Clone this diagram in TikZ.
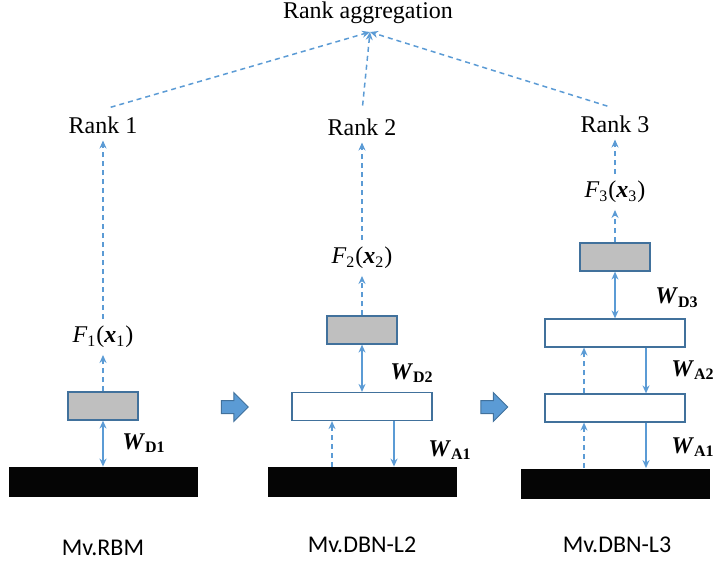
\documentclass[tikz,border=0pt]{standalone}
\usepackage{fontspec}
\setmainfont{Liberation Serif}
\newfontfamily\modelfont{Carlito}
\usetikzlibrary{arrows.meta,shapes.arrows}
\definecolor{lineblue}{RGB}{91,155,213}
\definecolor{edgeblue}{RGB}{65,113,156}

\newcommand{\Wlab}[1]{\textbf{\textit{W}}\textsubscript{\textbf{#1}}}
\newcommand{\Flab}[1]{\textit{F}\textsubscript{#1}(\textbf{\textit{x}}\textsubscript{#1})}

\begin{document}
\begin{tikzpicture}[x=0.5pt,y=-0.5pt,
	txt/.style={font=\fontsize{12}{14}\selectfont},
	model/.style={font=\modelfont\fontsize{12}{14}\selectfont},
	layer/.style={draw=edgeblue,line width=0.6pt,minimum width=#1,minimum height=14pt,inner sep=0pt},
	hid/.style={layer=70pt,fill=white},
	dis/.style={layer=35pt,fill=black!25},
	vis/.style={fill=black!98,minimum width=94.5pt,minimum height=15pt,inner sep=0pt},
	link/.style={lineblue,line width=0.9pt},
	up/.style={link,line width=0.75pt,dash pattern=on 2.5pt off 2pt,-{Stealth[length=4pt,width=3.5pt]}},
	down/.style={link,-{Stealth[length=4pt,width=3.5pt]}},
	both/.style={link,{Stealth[length=4pt,width=3.5pt]}-{Stealth[length=4pt,width=3.5pt]}},
	next/.style={single arrow,draw=edgeblue,fill=lineblue,line width=0.5pt,inner sep=3pt,
		minimum height=13.5pt,single arrow head extend=4pt}
]
\useasboundingbox (0,0) rectangle (713,563);

\node[txt] (agg) at (368,13) {Rank aggregation};
\coordinate (tip) at (370,32);
\node[txt] (r1) at (103,125) {Rank 1};
\node[txt] (r2) at (362,127) {Rank 2};
\node[txt] (r3) at (615,124) {Rank 3};

% Mv.RBM
\node[vis] (b1) at (103,482) {};
\node[dis] (g1) at (103,406) {};
\node[txt] (f1) at (103,337) {\Flab{1}};
\node[txt] (wd1) at (144,443) {\Wlab{D1}};
\node[model] (m1) at (103,548) {Mv.RBM};

% Mv.DBN-L2
\node[vis] (b2) at (362,482) {};
\node[hid] (h21) at (362,406.5) {};
\node[dis] (g2) at (362,330) {};
\node[txt] (f2) at (362,258) {\Flab{2}};
\node[txt] (wd2) at (412,373) {\Wlab{D2}};
\node[txt] (wa21) at (450,450) {\Wlab{A1}};
\node[model] (m2) at (362,545) {Mv.DBN-L2};

% Mv.DBN-L3
\node[vis] (b3) at (615,483.5) {};
\node[hid] (h31) at (615,408) {};
\node[hid] (h32) at (615,333) {};
\node[dis] (g3) at (615,257) {};
\node[txt] (f3) at (615,192) {\Flab{3}};
\node[txt] (wd3) at (677,298) {\Wlab{D3}};
\node[txt] (wa32) at (693,370) {\Wlab{A2}};
\node[txt] (wa31) at (693,447) {\Wlab{A1}};
\node[model] (m3) at (617,545) {Mv.DBN-L3};

\node[next] (n1) at (231.5,407) {};
\node[next] (n2) at (491,407) {};

\path[up]
(r1.north) edge[shorten <=4pt] (tip)
(r2.north) edge[shorten <=3pt] (tip)
(r3.north) edge[shorten <=4pt] (tip)
(f1) edge (r1) (g1) edge (f1)
(f2) edge (r2) (g2) edge (f2)
(f3) edge (r3) (g3) edge (f3)
([xshift=-15pt]b2.north) edge ([xshift=-15pt]h21.south)
([xshift=-15.5pt]b3.north) edge ([xshift=-15.5pt]h31.south)
([xshift=-15.5pt]h31.north) edge ([xshift=-15.5pt]h32.south)
;
\path[down]
([xshift=16pt]h21.south) edge ([xshift=16pt]b2.north)
([xshift=15.5pt]h31.south) edge ([xshift=15.5pt]b3.north)
([xshift=15.5pt]h32.south) edge ([xshift=15.5pt]h31.north)
;
\path[both]
(g1) edge (b1)
(g2) edge (h21)
(g3) edge (h32)
;
\end{tikzpicture}
\end{document}
